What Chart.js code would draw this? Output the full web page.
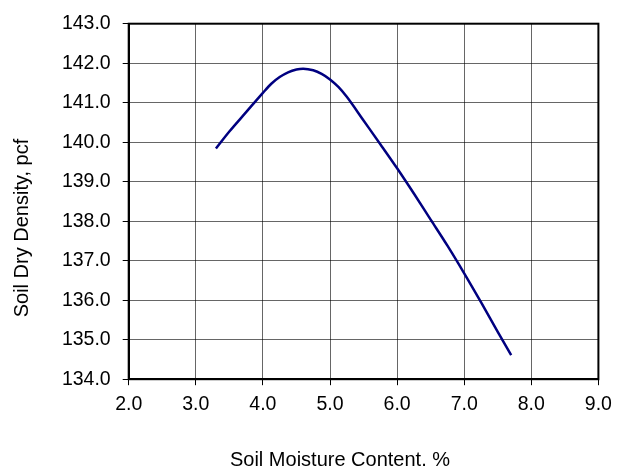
<!DOCTYPE html>
<html>
<head>
<meta charset="utf-8">
<title>Soil compaction curve</title>
<script src="https://cdn.jsdelivr.net/npm/chart.js@4/dist/chart.umd.min.js"></script>
<style>
  html, body { margin: 0; padding: 0; background: #fff; }
  #wrap { width: 621px; height: 467px; }
</style>
</head>
<body>
<div id="wrap"><canvas id="proctorChart" width="621" height="467"></canvas></div>
<script>
// moisture content (%) vs dry density (pcf) along the fitted compaction curve
const moisture = [3.3, 3.5, 3.75, 4.0, 4.125, 4.25, 4.375, 4.5, 4.6, 4.75, 4.875, 5.0, 5.125, 5.25,
  5.5, 5.75, 6.0, 6.25, 6.5, 6.75, 7.0, 7.25, 7.5, 7.7];
const dryDensity = [139.84, 140.27, 140.76, 141.25, 141.48, 141.65, 141.77, 141.84, 141.86, 141.82, 141.73, 141.59, 141.40, 141.15,
  140.55, 139.95, 139.34, 138.70, 138.04, 137.38, 136.68, 135.95, 135.20, 134.61];

const X_MIN = 2, X_MAX = 9;
const Y_MIN = 134, Y_MAX = 143;
const X_TITLE = "Soil Moisture Content. %";
const Y_TITLE = "Soil Dry Density, pcf";

const FONT = "'Liberation Sans', Arial, sans-serif";

const points = moisture.map((m, i) => ({ x: m, y: dryDensity[i] }));

// black box around the plot area (the axes' own border only covers left/bottom)
const frame = {
  id: "frame",
  afterDatasetsDraw(chart) {
    const { ctx, chartArea: a } = chart;
    ctx.save();
    ctx.strokeStyle = "#000";
    ctx.lineWidth = 2;
    ctx.strokeRect(a.left, a.top, a.right - a.left, a.bottom - a.top);
    ctx.restore();
  },
};

// axis titles sit off-centre relative to the plot, so draw them by hand
const axisTitles = {
  id: "axisTitles",
  afterDraw(chart) {
    const { ctx } = chart;
    ctx.save();
    ctx.fillStyle = "#000";
    ctx.font = `20px ${FONT}`;
    ctx.textAlign = "center";
    ctx.textBaseline = "alphabetic";
    ctx.fillText(X_TITLE, 340, 466);
    ctx.translate(28, 228);
    ctx.rotate(-Math.PI / 2);
    ctx.fillText(Y_TITLE, 0, 0);
    ctx.restore();
  },
};

new Chart(document.getElementById("proctorChart"), {
  type: "scatter",
  data: {
    datasets: [{
      data: points,
      showLine: true,
      borderColor: "#000080",
      borderWidth: 2.5,
      pointRadius: 0,
      cubicInterpolationMode: "monotone",
      fill: false,
    }],
  },
  options: {
    responsive: false,
    animation: false,
    layout: { padding: { top: 18.3, right: 22.6, left: 0, bottom: 0 } },
    plugins: {
      legend: { display: false },
      tooltip: { enabled: false },
    },
    scales: {
      x: {
        type: "linear",
        min: X_MIN,
        max: X_MAX,
        afterFit(scale) { scale.height = 467 - 379.2; },
        ticks: {
          stepSize: 1,
          color: "#000",
          padding: 8,
          font: { family: FONT, size: 19.5 },
          callback: (v) => Number(v).toFixed(1),
        },
        grid: { color: "rgba(0,0,0,0.6)", lineWidth: 1, tickColor: "#000", tickLength: 6 },
        border: { color: "#000", width: 2 },
      },
      y: {
        type: "linear",
        min: Y_MIN,
        max: Y_MAX,
        afterFit(scale) { scale.width = 128.7; },
        ticks: {
          stepSize: 1,
          color: "#000",
          padding: 12,
          font: { family: FONT, size: 19.5 },
          callback: (v) => Number(v).toFixed(1),
        },
        grid: { color: "rgba(0,0,0,0.6)", lineWidth: 1, tickColor: "#000", tickLength: 6 },
        border: { color: "#000", width: 2 },
      },
    },
  },
  plugins: [frame, axisTitles],
});
</script>
</body>
</html>
